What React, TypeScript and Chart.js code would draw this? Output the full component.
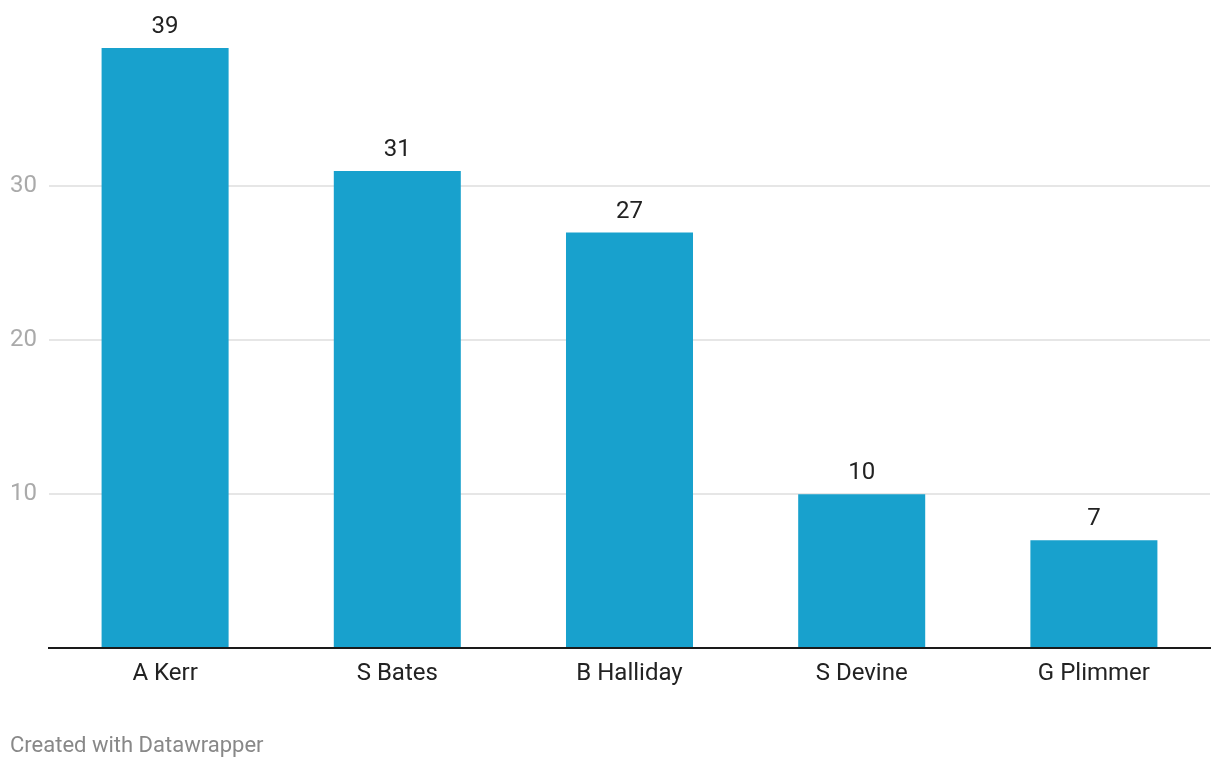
import React, { useEffect, useRef } from "react";
import { Chart, registerables } from "chart.js";

Chart.register(...registerables);

const categories = ["A Kerr", "S Bates", "B Halliday", "S Devine", "G Plimmer"];
const values = [39, 31, 27, 10, 7];
const yTicks = [0, 10, 20, 30];
const footerText = "Created with Datawrapper";

const valueLabels = {
  id: "valueLabels",
  afterDatasetsDraw(chart: any) {
    const ctx = chart.ctx;
    const meta = chart.getDatasetMeta(0);
    ctx.save();
    ctx.font = "24px Roboto";
    ctx.fillStyle = "#222222";
    ctx.textAlign = "center";
    ctx.textBaseline = "alphabetic";
    meta.data.forEach((bar: any, i: number) => {
      ctx.fillText(String(values[i]), bar.x, bar.y - 15);
    });
    ctx.restore();
  },
};

export default function App() {
  const ref = useRef<HTMLCanvasElement>(null);
  useEffect(() => {
    document.body.style.margin = "0";
    const chart = new Chart(ref.current!, {
      type: "bar",
      data: {
        labels: categories,
        datasets: [
          {
            data: values,
            backgroundColor: "#18a1cd",
            categoryPercentage: 1,
            barPercentage: 0.547,
          },
        ],
      },
      plugins: [valueLabels],
      options: {
        animation: false,
        responsive: false,
        events: [],
        layout: { padding: { left: 10, right: 10, top: 48, bottom: 70 } },
        plugins: { legend: { display: false }, tooltip: { enabled: false } },
        scales: {
          x: {
            grid: { display: false, drawTicks: false },
            border: { display: true, color: "#1a1a1a", width: 2 },
            ticks: {
              color: "#222222",
              font: { family: "Roboto", size: 24 },
              padding: 12,
            },
            afterFit(scale: any) {
              scale.height = 50;
            },
          },
          y: {
            min: 0,
            max: 39,
            afterBuildTicks(scale: any) {
              scale.ticks = yTicks.map((v) => ({ value: v }));
            },
            grid: {
              color: (c: any) => (c.tick && c.tick.value === 0 ? "rgba(0,0,0,0)" : "#e6e6e6"),
              lineWidth: 2,
              drawTicks: false,
            },
            border: { display: false },
            ticks: {
              color: "#aaaaaa",
              font: { family: "Roboto", size: 24 },
              crossAlign: "far",
              padding: 0,
              callback: (v: any) => (v === 0 ? "" : String(v)),
            },
            afterFit(scale: any) {
              scale.width = 39;
            },
          },
        },
      },
    });
    return () => chart.destroy();
  }, []);
  return (
    <div style={{ position: "relative", width: 1220, height: 768 }}>
      <canvas ref={ref} width={1220} height={768} style={{ display: "block" }} />
      <div
        style={{
          position: "absolute",
          left: 10,
          top: 732,
          fontFamily: "Roboto",
          fontSize: 22,
          color: "#888888",
        }}
      >
        {footerText}
      </div>
    </div>
  );
}
